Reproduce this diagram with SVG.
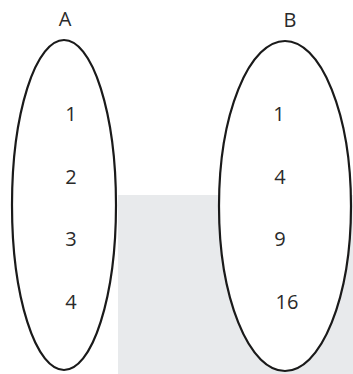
<svg xmlns="http://www.w3.org/2000/svg" width="353" height="374" viewBox="0 0 353 374">
<style>
.set{fill:#ffffff;stroke:#1a1a1a;stroke-width:2.2}
.t{font-family:"Open Sans","Noto Sans",sans-serif;font-size:20px;fill:#2a2a2a;text-anchor:middle}
</style>
<rect width="353" height="374" fill="#ffffff"/>
<rect x="118" y="195" width="235" height="179" fill="#e8eaec"/>
<g id="setA">
<ellipse class="set" cx="64" cy="205" rx="52" ry="165"/>
<text class="t" x="65" y="26">A</text>
<text class="t" x="71" y="121">1</text>
<text class="t" x="71" y="184">2</text>
<text class="t" x="71" y="246">3</text>
<text class="t" x="71" y="309">4</text>
</g>
<g id="setB">
<ellipse class="set" cx="285" cy="206" rx="66" ry="165"/>
<text class="t" x="290" y="27">B</text>
<text class="t" x="279" y="121">1</text>
<text class="t" x="280" y="184">4</text>
<text class="t" x="280" y="246">9</text>
<text class="t" x="287" y="309">16</text>
</g>
<g id="connectors"/>
</svg>
